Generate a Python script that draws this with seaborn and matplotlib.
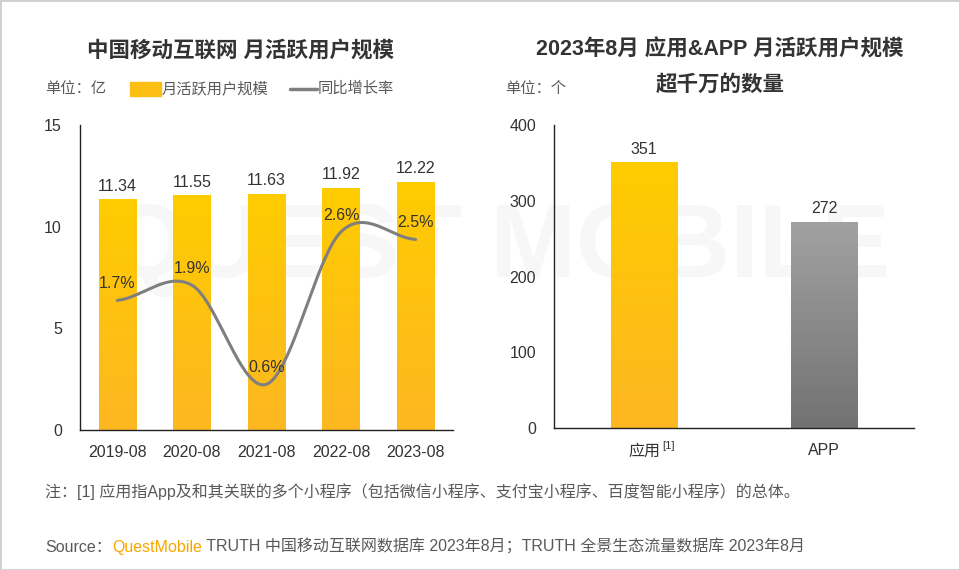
import numpy as np
import pandas as pd
import matplotlib
matplotlib.use("Agg")
import matplotlib.pyplot as plt
import seaborn as sns
from matplotlib.colors import LinearSegmentedColormap
from matplotlib.patches import Rectangle
from matplotlib.lines import Line2D

# ---- data ----
months = ["2019-08", "2020-08", "2021-08", "2022-08", "2023-08"]
mau = [11.34, 11.55, 11.63, 11.92, 12.22]          # 月活跃用户规模 (亿)
growth = [1.7, 1.9, 0.6, 2.6, 2.5]                 # 同比增长率 (%)

kinds = ["应用", "APP"]
counts = [351, 272]                                # 月活超千万的数量 (个)

YELLOW_TOP, YELLOW_BOT = "#FFCC00", "#FDB722"
GRAY_TOP, GRAY_BOT = "#A2A2A2", "#727272"
TXT = "#333333"
SUB = "#595959"

sns.set_style("white")
plt.rcParams["font.family"] = ["Liberation Sans", "Noto Sans CJK SC"]


def fill_gradient(ax, bars, top, bottom):
    # vertical gradient clipped to each bar
    cmap = LinearSegmentedColormap.from_list("g", [bottom, top])
    grad = np.linspace(0, 1, 256).reshape(-1, 1)
    for b in bars:
        x0, y0, w, h = b.get_x(), b.get_y(), b.get_width(), b.get_height()
        im = ax.imshow(grad, cmap=cmap, origin="lower", aspect="auto",
                       extent=[x0, x0 + w, y0, y0 + h], zorder=2)
        im.set_clip_path(b)
        b.set_facecolor("none")
        b.set_edgecolor("none")


def smooth(xs, ys, n=40):
    # catmull-rom curve through the points (same look as a smoothed office line)
    xs, ys = np.asarray(xs, float), np.asarray(ys, float)
    px = np.concatenate([[2 * xs[0] - xs[1]], xs, [2 * xs[-1] - xs[-2]]])
    py = np.concatenate([[ys[0]], ys, [ys[-1]]])
    outx, outy = [], []
    for i in range(1, len(px) - 2):
        t = np.linspace(0, 1, n)
        for arr, out in ((px, outx), (py, outy)):
            p0, p1, p2, p3 = arr[i - 1], arr[i], arr[i + 1], arr[i + 2]
            out.extend(0.5 * ((2 * p1) + (-p0 + p2) * t
                              + (2 * p0 - 5 * p1 + 4 * p2 - p3) * t ** 2
                              + (-p0 + 3 * p1 - 3 * p2 + p3) * t ** 3))
    return np.array(outx), np.array(outy)


def style_axes(ax):
    for s in ("top", "right"):
        ax.spines[s].set_visible(False)
    for s in ("left", "bottom"):
        ax.spines[s].set_color("#222222")
        ax.spines[s].set_linewidth(1.0)
    ax.set_facecolor("none")
    ax.set_xlabel("")
    ax.set_ylabel("")
    ax.tick_params(axis="both", length=0, labelsize=11.5, colors=TXT)
    ax.tick_params(axis="y", pad=13)
    ax.tick_params(axis="x", pad=11)


fig = plt.figure(figsize=(9.6, 5.7), dpi=100)

# faint watermark
fig.text(0.52, 0.56, "QUEST MOBILE", fontsize=74, fontweight="bold",
         color="#f7f7f7", ha="center", va="center", zorder=-1)

# ---- left chart ----
ax1 = fig.add_axes([0.0833, 0.2456, 0.3885, 0.535])
df1 = pd.DataFrame({"month": months, "mau": mau})
sns.barplot(data=df1, x="month", y="mau", ax=ax1, width=0.5,
            color=YELLOW_TOP, saturation=1)
fill_gradient(ax1, ax1.patches, YELLOW_TOP, YELLOW_BOT)
ax1.bar_label(ax1.containers[0], labels=[f"{v:.2f}" for v in mau],
              padding=4, fontsize=11.5, color=TXT)
ax1.set_xlim(-0.5, len(months) - 0.5)
ax1.set_ylim(0, 15)
ax1.set_yticks([0, 5, 10, 15])
style_axes(ax1)

ax1b = ax1.twinx()
sx, sy = smooth(range(len(growth)), growth)
sns.lineplot(x=sx, y=sy, ax=ax1b, sort=False, estimator=None,
             color="#7F7F7F", linewidth=2.2)
for i, g in enumerate(growth):
    ax1b.annotate(f"{g}%", (i, g), xytext=(0, 12), textcoords="offset points",
                  ha="center", va="center", fontsize=11.5, color=TXT)
ax1b.set_ylim(0, 4)
ax1b.axis("off")

# ---- right chart ----
ax2 = fig.add_axes([0.5771, 0.2491, 0.375, 0.5316])
df2 = pd.DataFrame({"kind": kinds, "count": counts})
sns.barplot(data=df2, x="kind", y="count", hue="kind", ax=ax2, width=0.37,
            palette=[YELLOW_TOP, GRAY_TOP], saturation=1, legend=False)
bars2 = sorted(ax2.patches, key=lambda p: p.get_x())
fill_gradient(ax2, bars2[:1], YELLOW_TOP, YELLOW_BOT)
fill_gradient(ax2, bars2[1:], GRAY_TOP, GRAY_BOT)
for c in ax2.containers:
    ax2.bar_label(c, padding=4, fontsize=11.5, color=TXT)
ax2.set_xlim(-0.5, len(kinds) - 0.5)
ax2.set_ylim(0, 400)
ax2.set_yticks([0, 100, 200, 300, 400])
style_axes(ax2)
ax2.annotate("[1]", xy=(0, 0), xytext=(13, -13), textcoords="offset points",
             fontsize=8, color=TXT, ha="left", va="center",
             annotation_clip=False)

# ---- titles & legends ----
fig.text(0.251, 0.910, "中国移动互联网 月活跃用户规模", ha="center", va="center",
         fontsize=15.5, fontweight="bold", color=TXT)
fig.text(0.750, 0.912, "2023年8月 应用&APP 月活跃用户规模", ha="center",
         va="center", fontsize=15.5, fontweight="bold", color=TXT)
fig.text(0.750, 0.851, "超千万的数量", ha="center", va="center",
         fontsize=15.5, fontweight="bold", color=TXT)

fig.text(0.047, 0.844, "单位：亿", ha="left", va="center", fontsize=11, color=SUB)
fig.text(0.526, 0.844, "单位：个", ha="left", va="center", fontsize=11, color=SUB)

fig.patches.append(Rectangle((130 / 960, 1 - 96 / 570), 31 / 960, 14 / 570,
                             transform=fig.transFigure, color="#FDBE14"))
fig.text(162 / 960, 0.844, "月活跃用户规模", ha="left", va="center",
         fontsize=11, color=SUB)
fig.lines.append(Line2D([290 / 960, 317 / 960], [0.844, 0.844],
                        transform=fig.transFigure, color="#7F7F7F", lw=2.5))
fig.text(318 / 960, 0.844, "同比增长率", ha="left", va="center",
         fontsize=11, color=SUB)

# ---- notes ----
fig.text(0.047, 0.137,
         "注：[1] 应用指App及和其关联的多个小程序（包括微信小程序、支付宝小程序、百度智能小程序）的总体。",
         ha="left", va="center", fontsize=11.5, color=SUB)
src = fig.text(0.047, 0.040, "Source：", ha="left", va="center",
               fontsize=11.5, color=SUB)
qm = ax1.annotate("QuestMobile", xy=(1, 0), xycoords=src, ha="left",
                  va="bottom", fontsize=11.5, color="#F7A600",
                  annotation_clip=False)
ax1.annotate(" TRUTH 中国移动互联网数据库 2023年8月；TRUTH 全景生态流量数据库 2023年8月",
             xy=(1, 0), xycoords=qm, ha="left", va="bottom",
             fontsize=11.5, color=SUB, annotation_clip=False)

# light frame
fig.patches.append(Rectangle((0, 0), 1, 1, transform=fig.transFigure,
                             fill=False, edgecolor="#cfcfcf", lw=2))

fig.savefig("out.png", dpi=100, facecolor="white")
